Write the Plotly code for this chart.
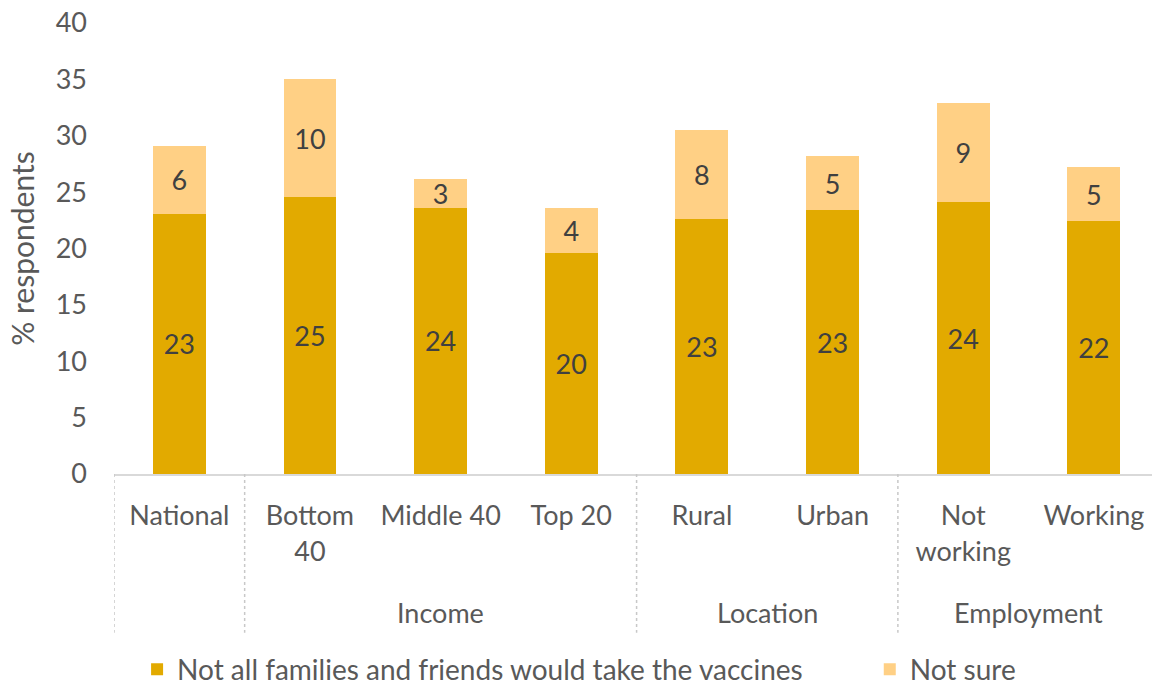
import plotly.graph_objects as go

# Survey breakdown: share of respondents saying not all family/friends would take the vaccine
categories = ["National", "Bottom<br>40", "Middle 40", "Top 20",
              "Rural", "Urban", "Not<br>working", "Working"]
not_all = [23.1, 24.6, 23.6, 19.6, 22.6, 23.4, 24.1, 22.4]
not_sure = [6.0, 10.4, 2.6, 4.0, 7.9, 4.8, 8.8, 4.8]

# Group headings and the category index range each one spans
groups = ["Income", "Location", "Employment"]
group_spans = [(1, 3), (4, 5), (6, 7)]
group_edges = [-0.5, 0.5, 3.5, 5.5]

y_ticks = [0, 5, 10, 15, 20, 25, 30, 35, 40]

FONT = "Lato"
GREY = "#595959"
LABEL = "#404040"
DARK = "#E2AA00"
LIGHT = "#FFD085"

x = list(range(len(categories)))

fig = go.Figure()
fig.add_trace(go.Bar(
    x=x, y=not_all, name="Not all families and friends would take the vaccines",
    marker=dict(color=DARK, line=dict(width=0)), width=0.405,
    texttemplate="%{y:.0f}", textposition="inside", insidetextanchor="middle",
    constraintext="none", textangle=0,
    textfont=dict(family=FONT, size=27, color=LABEL),
    legend="legend", showlegend=True,
))
fig.add_trace(go.Bar(
    x=x, y=not_sure, name="Not sure",
    marker=dict(color=LIGHT, line=dict(width=0)), width=0.405,
    texttemplate="%{y:.0f}", textposition="inside", insidetextanchor="middle",
    constraintext="none", textangle=0,
    textfont=dict(family=FONT, size=27, color=LABEL),
    legend="legend2", showlegend=True,
))

# Dotted separators between category groups, running below the axis
for e in group_edges:
    fig.add_shape(type="line", xref="x", yref="paper", x0=e, x1=e, y0=0, y1=-0.352,
                  line=dict(color="#C8C8C8", width=1.5, dash="dot"))

# Group headings under the category labels
for name, (a, b) in zip(groups, group_spans):
    fig.add_annotation(x=(a + b) / 2, xref="x", y=-0.307, yref="paper",
                       text=name, showarrow=False, yanchor="middle",
                       font=dict(family=FONT, size=27, color=GREY))

legend_common = dict(orientation="h", xref="container", yref="container",
                     y=0.034, xanchor="left", yanchor="middle",
                     font=dict(family=FONT, size=28, color=GREY),
                     bgcolor="rgba(0,0,0,0)")

fig.update_layout(
    width=1152, height=693,
    margin=dict(l=114, r=0, t=23, b=219),
    barmode="stack", bargap=0.6, showlegend=True,
    plot_bgcolor="white", paper_bgcolor="white",
    font=dict(family=FONT, size=27, color=GREY),
    legend=dict(x=0.119, **legend_common),
    legend2=dict(x=0.755, **legend_common),
    xaxis=dict(
        range=[-0.5, 7.445], tickmode="array", tickvals=x, ticktext=categories,
        showline=True, linecolor="#D9D9D9", linewidth=2, showgrid=False,
        ticks="", ticklabelstandoff=17, zeroline=False,
        tickfont=dict(family=FONT, size=27, color=GREY),
    ),
    yaxis=dict(
        range=[0, 40], tickmode="array", tickvals=y_ticks,
        showgrid=False, zeroline=False, showline=False, ticks="",
        ticklabelstandoff=26,
        tickfont=dict(family=FONT, size=27, color=GREY),
        title=dict(text="% respondents", standoff=12,
                   font=dict(family=FONT, size=30, color=GREY)),
    ),
)

fig.write_html("out.html")
